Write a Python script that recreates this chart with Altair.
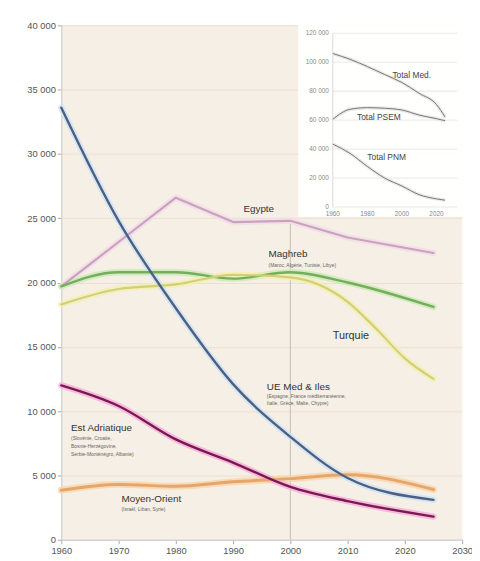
import altair as alt
import pandas as pd

# ---------------- main chart data ----------------
years = [1960, 1970, 1980, 1990, 2000, 2010, 2025]
ue_med_iles = [33600, 24800, 18000, 12100, 8000, 4800, 3100]
egypte = [19700, 23150, 26600, 24700, 24800, 23500, 22300]
maghreb = [19700, 20800, 20800, 20300, 20800, 20000, 18100]
est_adriatique = [12000, 10400, 7800, 6000, 4100, 3000, 1800]
moyen_orient = [3850, 4300, 4150, 4500, 4750, 5050, 3900]
turquie_years = [1960, 1970, 1980, 1990, 2000, 2010, 2015, 2020, 2025]
turquie = [18300, 19500, 19850, 20600, 20400, 18500, 16400, 14100, 12500]

series_names = ["Egypte", "Maghreb", "Turquie", "Moyen-Orient", "Est Adriatique", "UE Med & Iles"]
series_years = [years, years, turquie_years, years, years, years]
series_values = [egypte, maghreb, turquie, moyen_orient, est_adriatique, ue_med_iles]
core_colors = ["#c9a2bd", "#74ad5c", "#d2cf7a", "#e6a56a", "#7b1852", "#4d5f82"]
halo_colors = ["#f3dcea", "#cdeab8", "#f3f0b0", "#f8d6ae", "#f6b0dc", "#cfe4f4"]
core_widths = [2.2, 2.4, 2.2, 3.0, 2.4, 2.4]
interps = ["linear", "monotone", "monotone", "monotone", "monotone", "monotone"]

x_ticks = [1960, 1970, 1980, 1990, 2000, 2010, 2020, 2030]
y_ticks = [0, 5000, 10000, 15000, 20000, 25000, 30000, 35000, 40000]

# annotations (data coordinates)
ann_text = ["Egypte", "Maghreb", "(Maroc, Algérie, Tunisie, Libye)", "Turquie",
            "UE Med & Iles", "(Espagne, France méditerranéenne,", "Italie, Grèce, Malte, Chypre)",
            "Est Adriatique", "(Slovénie, Croatie,", "Bosnie-Herzégovine,", "Serbie-Monténégro, Albanie)",
            "Moyen-Orient", "(Israël, Liban, Syrie)"]
ann_year = [1991.8, 1996.2, 1996.2, 2007.4,
            1995.9, 1995.9, 1995.9,
            1961.7, 1961.7, 1961.7, 1961.7,
            1970.5, 1970.5]
ann_value = [25700, 22200, 21350, 15850,
             11850, 11150, 10600,
             8700, 7900, 7300, 6700,
             3150, 2400]
ann_size = [10, 10, 5, 11, 10, 5, 5, 10, 5, 5, 5, 10, 5]
ann_color = ["#333", "#333", "#666", "#333", "#333", "#666", "#666",
             "#333", "#666", "#666", "#666", "#333", "#666"]

vline_year = [2000]
vline_top = [24600]

# ---------------- inset data ----------------
inset_years = [1960, 1970, 1980, 1990, 2000, 2010, 2020, 2025]
total_med = [106000, 102000, 97000, 91500, 86000, 78500, 70800, 62000]
total_psem = [60600, 67500, 68600, 68200, 67000, 63500, 61000, 59600]
total_pnm = [43400, 37000, 28000, 20000, 14500, 8500, 5600, 4700]
inset_names = ["Total Med.", "Total PSEM", "Total PNM"]
inset_label_year = [1994.5, 1974.0, 1980.0]
inset_label_value = [91000, 62000, 34800]
inset_y_ticks = [0, 20000, 40000, 60000, 80000, 100000, 120000]
inset_x_ticks = [1960, 1980, 2000, 2020]

# ---------------- scales ----------------
X = alt.X("year:Q", scale=alt.Scale(domain=[1960, 2030], nice=False, zero=False),
          axis=alt.Axis(values=x_ticks, format="d", title=None, grid=False,
                        labelFontSize=9.5, labelColor="#555", tickColor="#aaa",
                        domainColor="#c8c8c8", tickSize=4, labelPadding=2, labelFlush=False))
Y = alt.Y("value:Q", scale=alt.Scale(domain=[0, 40000], nice=False),
          axis=alt.Axis(values=y_ticks, title=None, grid=True, gridColor="#e9e0d0",
                        labelExpr="replace(format(datum.value, ','), ',', ' ')",
                        labelFontSize=9.5, labelColor="#555", tickColor="#aaa",
                        domainColor="#c8c8c8", tickSize=4, labelPadding=2, labelFlush=False))

IX = alt.X("iyear:Q", scale=alt.Scale(domain=[1960, 2020], range=[275, 380], nice=False, zero=False), axis=None)
IY = alt.Y("ivalue:Q", scale=alt.Scale(domain=[0, 120000], range=[184, 8], nice=False), axis=None)

# ---------------- main layers ----------------
halos = []
cores = []
for name, xs, vs, cc, hc, w, ip in zip(series_names, series_years, series_values, core_colors,
                                        halo_colors, core_widths, interps):
    df = pd.DataFrame({"year": xs, "value": vs, "series": name})
    base = alt.Chart(df)
    halos.append(base.mark_line(interpolate=ip, strokeWidth=w + 4, opacity=0.85,
                                strokeCap="round", strokeJoin="round").encode(x=X, y=Y, color=alt.value(hc)))
    cores.append(base.mark_line(interpolate=ip, strokeWidth=w,
                                strokeCap="round", strokeJoin="round").encode(x=X, y=Y, color=alt.value(cc)))

vline = alt.Chart(pd.DataFrame({"year": vline_year, "value": [0], "top": vline_top})).mark_rule(
    color="#b5b0a8", strokeWidth=0.8).encode(x=X, y=Y, y2="top:Q")

ann_df = pd.DataFrame({"year": ann_year, "value": ann_value, "label": ann_text,
                       "fs": ann_size, "col": ann_color})
ann = alt.Chart(ann_df).mark_text(align="left", baseline="middle", font="Liberation Sans").encode(
    x=X, y=Y, text="label:N", size=alt.Size("fs:Q", scale=None),
    color=alt.Color("col:N", scale=None))

main = alt.layer(vline, *halos, *cores, ann)

# ---------------- inset layers ----------------
box = alt.Chart(pd.DataFrame({"iyear": [1960], "ivalue": [0]})).mark_rect(
    color="white", opacity=0.95).encode(
    x=alt.value(240), x2=alt.value(408), y=alt.value(-8), y2=alt.value(194))

igrid = alt.Chart(pd.DataFrame({"iyear": [1960] * len(inset_y_ticks), "iend": [2032] * len(inset_y_ticks),
                                "ivalue": inset_y_ticks})).mark_rule(
    color="#e2e2e2", strokeWidth=0.8).encode(x=IX, x2="iend:Q", y=IY)

iaxis = alt.Chart(pd.DataFrame({"iyear": [1960], "ivalue": [0], "itop": [120000]})).mark_rule(
    color="#d0d0d0", strokeWidth=0.8).encode(x=IX, y=IY, y2="itop:Q")

irows = []
for name, vs in zip(inset_names, [total_med, total_psem, total_pnm]):
    for yv, v in zip(inset_years, vs):
        irows.append({"iyear": yv, "ivalue": v, "iseries": name})
idf = pd.DataFrame(irows)
ihalo = alt.Chart(idf).mark_line(interpolate="monotone", strokeWidth=3.5, color="#e8e8e8").encode(
    x=IX, y=IY, detail="iseries:N")
iline = alt.Chart(idf).mark_line(interpolate="monotone", strokeWidth=1.0, color="#777777").encode(
    x=IX, y=IY, detail="iseries:N")

ilab = alt.Chart(pd.DataFrame({"iyear": inset_label_year, "ivalue": inset_label_value,
                               "label": inset_names})).mark_text(
    align="left", baseline="middle", fontSize=8.5, color="#444", font="Liberation Sans").encode(
    x=IX, y=IY, text="label:N")

iyl = alt.Chart(pd.DataFrame({"iyear": [1960] * len(inset_y_ticks), "ivalue": inset_y_ticks,
                              "label": [f"{v:,}".replace(",", " ") for v in inset_y_ticks]})).mark_text(
    align="right", baseline="middle", dx=-4, fontSize=6.5, color="#888", font="Liberation Sans").encode(
    x=IX, y=IY, text="label:N")

ixl = alt.Chart(pd.DataFrame({"iyear": inset_x_ticks, "ivalue": [0] * len(inset_x_ticks),
                              "label": [str(v) for v in inset_x_ticks]})).mark_text(
    align="center", baseline="top", dy=4, fontSize=6.5, color="#888", font="Liberation Sans").encode(
    x=IX, y=IY, text="label:N")

inset = alt.layer(box, igrid, iaxis, ihalo, iline, ilab, iyl, ixl)

chart = alt.layer(main, inset).resolve_scale(x="independent", y="independent").properties(
    width=406, height=521,
    autosize=alt.AutoSizeParams(type="none"),
    padding={"left": 54, "top": 14, "right": 10, "bottom": 17},
    background="white",
).configure_view(fill="#f5efe5", stroke=None).configure_axis(labelFont="Liberation Sans")

chart.save("out.html", embed_options={"renderer": "svg", "actions": False})
